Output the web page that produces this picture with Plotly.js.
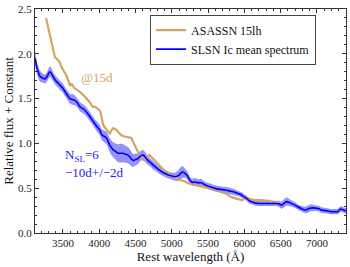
<!DOCTYPE html>
<html><head><meta charset="utf-8">
<script src="https://cdn.plot.ly/plotly-3.0.1.min.js"></script>
<style>html,body{margin:0;padding:0;background:#fff}#c{width:350px;height:267px}</style>
</head><body><div id="c"></div>
<script>
// ASASSN 15lh spectrum (@15d)
const asassnWave = [3267,3280,3290,3305,3322,3340,3360,3375,3390,3410,3430,3445,3459,3475,3490,3510,3527,3545,3560,3580,3596,3620,3640,3665,3690,3710,3733,3755,3780,3805,3830,3850,3870,3890,3912,3935,3960,3985,4008,4020,4030,4042,4053,4075,4100,4120,4145,4165,4190,4215,4237,4270,4306,4340,4374,4410,4443,4465,4488,4510,4534,4555,4580,4600,4625,4660,4694,4730,4763,4810,4861,4905,4953,5000,5045,5090,5136,5182,5227,5275,5320,5365,5411,5455,5502,5550,5594,5640,5690,5740,5778,5820,5869,5915,5961,6005,6053,6100,6144,6190,6240,6281,6330,6373,6420,6460,6500];
const asassnFlux = [2.40,2.35,2.31,2.26,2.19,2.12,2.05,2.00,1.96,1.95,1.93,1.92,1.90,1.86,1.84,1.81,1.79,1.76,1.73,1.69,1.65,1.66,1.64,1.61,1.60,1.59,1.57,1.56,1.54,1.52,1.50,1.48,1.46,1.43,1.41,1.41,1.40,1.38,1.37,1.34,1.30,1.25,1.21,1.18,1.15,1.13,1.11,1.14,1.17,1.16,1.15,1.12,1.09,1.08,1.075,1.07,1.06,1.02,0.98,0.95,0.91,0.87,0.83,0.82,0.81,0.84,0.87,0.84,0.81,0.77,0.72,0.69,0.666,0.64,0.61,0.60,0.59,0.575,0.555,0.545,0.54,0.53,0.517,0.51,0.498,0.49,0.487,0.47,0.455,0.44,0.424,0.40,0.387,0.375,0.368,0.38,0.387,0.375,0.368,0.37,0.368,0.368,0.36,0.35,0.345,0.335,0.33];

// SLSN Ic mean spectrum (N_SL = 6, -10d +/- 2d)
const meanWave = [3115,3150,3184,3220,3253,3290,3321,3355,3390,3425,3459,3495,3527,3560,3596,3630,3665,3700,3733,3770,3802,3835,3870,3905,3939,3975,4008,4031,4065,4100,4145,4190,4225,4259,4295,4328,4360,4396,4430,4465,4500,4534,4570,4603,4640,4671,4700,4740,4770,4815,4861,4905,4953,5000,5045,5090,5120,5150,5182,5215,5251,5285,5320,5365,5411,5457,5525,5595,5640,5690,5732,5790,5847,5900,5961,6000,6030,6069,6098,6160,6190,6250,6327,6380,6419,6480,6510,6545,6579,6620,6647,6700,6739,6790,6830,6870,6899,6950,6990,7030,7059,7120,7196,7250,7287,7312,7333,7360,7400];
const meanFlux = [1.95,1.82,1.75,1.73,1.72,1.76,1.80,1.76,1.71,1.68,1.65,1.62,1.58,1.54,1.50,1.49,1.48,1.45,1.41,1.39,1.37,1.34,1.30,1.26,1.22,1.18,1.15,1.10,1.08,1.06,0.98,0.93,0.91,0.89,0.89,0.89,0.88,0.87,0.84,0.81,0.82,0.83,0.86,0.87,0.84,0.81,0.79,0.76,0.74,0.71,0.684,0.665,0.647,0.635,0.628,0.64,0.665,0.68,0.666,0.64,0.585,0.565,0.57,0.56,0.56,0.536,0.517,0.498,0.49,0.485,0.48,0.47,0.46,0.445,0.424,0.40,0.387,0.36,0.35,0.335,0.33,0.33,0.33,0.33,0.33,0.325,0.31,0.33,0.35,0.34,0.33,0.31,0.29,0.27,0.257,0.265,0.276,0.28,0.276,0.27,0.257,0.25,0.238,0.238,0.238,0.26,0.268,0.26,0.245];
const meanErr = [0.08,0.07,0.06,0.05,0.05,0.055,0.06,0.055,0.05,0.05,0.05,0.05,0.05,0.05,0.055,0.06,0.055,0.05,0.05,0.05,0.05,0.05,0.05,0.05,0.05,0.055,0.055,0.06,0.065,0.07,0.08,0.085,0.09,0.10,0.105,0.10,0.095,0.09,0.085,0.075,0.065,0.06,0.055,0.055,0.055,0.05,0.045,0.045,0.045,0.04,0.04,0.04,0.04,0.04,0.045,0.06,0.07,0.065,0.05,0.045,0.04,0.04,0.045,0.04,0.04,0.035,0.035,0.035,0.035,0.035,0.035,0.035,0.035,0.03,0.03,0.03,0.03,0.03,0.03,0.03,0.03,0.03,0.03,0.03,0.03,0.035,0.04,0.045,0.045,0.04,0.035,0.03,0.03,0.03,0.035,0.04,0.04,0.035,0.03,0.03,0.03,0.03,0.03,0.03,0.03,0.03,0.03,0.03,0.03];

const xTicks = [3500,4000,4500,5000,5500,6000,6500,7000];
const yTicks = [0.0,0.5,1.0,1.5,2.0,2.5];
const legendNames = ["ASASSN 15lh","SLSN Ic mean spectrum"];

const upper = meanFlux.map((v,i)=>v+meanErr[i]);
const lower = meanFlux.map((v,i)=>v-meanErr[i]);
const F = "Liberation Serif, Times New Roman, serif";

const traces = [
  {x: meanWave, y: lower, mode:'lines', line:{width:0, color:'rgba(0,0,0,0)', shape:'spline'}, showlegend:false, hoverinfo:'skip'},
  {x: meanWave, y: upper, mode:'lines', fill:'tonexty', fillcolor:'rgba(40,40,255,0.5)', line:{width:0, color:'rgba(0,0,0,0)', shape:'spline'}, showlegend:false, hoverinfo:'skip'},
  {x: asassnWave, y: asassnFlux, mode:'lines', name:legendNames[0], line:{color:'#d3a462', width:2.2}},
  {x: meanWave, y: meanFlux, mode:'lines', name:legendNames[1], line:{color:'#0000ff', width:1.6, shape:'spline'}}
];

const axBase = {showline:true, linecolor:'#333', linewidth:1, mirror:'ticks', ticks:'inside', ticklen:4, tickcolor:'#333', showgrid:false, zeroline:false, tickfont:{family:F, size:11, color:'#222'}};

const layout = {
  width:350, height:267, margin:{l:35, r:4, t:9, b:34},
  paper_bgcolor:'#fff', plot_bgcolor:'#fff',
  font:{family:F, color:'#222'},
  xaxis: Object.assign({}, axBase, {range:[3115,7400], tickvals:xTicks, ticktext:xTicks.map(String), minor:{ticks:'inside', dtick:100, tick0:3000, ticklen:2, tickcolor:'#333'}, title:{text:'Rest wavelength (Å)', font:{family:F, size:13, color:'#111'}, standoff:3}}),
  yaxis: Object.assign({}, axBase, {range:[0,2.5], tickvals:yTicks, ticktext:yTicks.map(v=>v.toFixed(1)), minor:{ticks:'inside', dtick:0.1, tick0:0, ticklen:2, tickcolor:'#333'}, title:{text:'Relative flux + Constant', font:{family:F, size:13, color:'#111'}, standoff:1}}),
  legend:{x:0.37, y:0.975, xanchor:'left', yanchor:'top', traceorder:'normal', bgcolor:'#fff', bordercolor:'#444', borderwidth:1, font:{family:F, size:12, color:'#111'}, tracegroupgap:0, itemwidth:30},
  annotations:[
    {x:3975, y:1.74, xref:'x', yref:'y', text:'@15d', showarrow:false, font:{family:F, size:13, color:'#d3a462'}},
    {x:3500, y:0.87, xref:'x', yref:'y', xanchor:'left', text:'N<sub>SL</sub>=6', showarrow:false, font:{family:F, size:13, color:'#1a1aff'}},
    {x:3500, y:0.67, xref:'x', yref:'y', xanchor:'left', text:'−10d+/−2d', showarrow:false, font:{family:F, size:13, color:'#1a1aff'}}
  ]
};

Plotly.newPlot('c', traces, layout, {staticPlot:true, displayModeBar:false});
</script></body></html>
